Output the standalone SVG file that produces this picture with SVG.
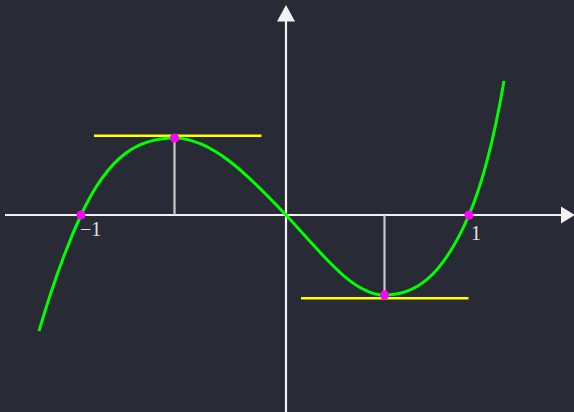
<svg xmlns="http://www.w3.org/2000/svg" width="574" height="412" viewBox="0 0 574 412">
<defs>
<style>
.axis{stroke:#f2f2f2;stroke-width:2.2;fill:none}
.arrow{fill:#f2f2f2}
.curve{stroke:#00ff00;stroke-width:3;fill:none;stroke-linecap:butt}
.tangent{stroke:#ffff00;stroke-width:2.6}
.drop{stroke:#c8c8c8;stroke-width:2.2}
.dot{fill:#ff00ff}
.lbl{font-family:"Liberation Serif","DejaVu Serif",serif;font-size:20px;fill:#e0e0e0}
</style>
</defs>
<rect width="574" height="412" fill="#282a36"/>
<g id="axes">
<line class="axis" x1="5" y1="215" x2="563" y2="215"/>
<polygon class="arrow" points="575,215 561,206.5 561,223.5"/>
<line class="axis" x1="286" y1="412" x2="286" y2="20"/>
<polygon class="arrow" points="286,5 277,21.5 295,21.5"/>
</g>
<g id="connectors">
<line class="drop" x1="174.5" y1="138" x2="174.5" y2="215"/>
<line class="drop" x1="384.5" y1="215" x2="384.5" y2="295"/>
<line class="tangent" x1="94" y1="135.7" x2="261.5" y2="135.7"/>
<line class="tangent" x1="301" y1="298.3" x2="468.5" y2="298.3"/>
</g>
<g id="curve">
<path class="curve" d="M39,331 C53,283.4 67,245.4 81,215 C110,153 140,138 174.5,138 C211.7,138 248.8,175.6 286,215 C318.8,249.8 351.7,295 384.5,295 C412.7,295 440.8,280.7 469,215 C480.7,187.8 494,139 504,81"/>
</g>
<g id="points">
<circle class="dot" cx="81" cy="215" r="4.5"/>
<circle class="dot" cx="469" cy="215" r="4.5"/>
<circle class="dot" cx="174.5" cy="138" r="4.5"/>
<circle class="dot" cx="384.5" cy="295" r="4.5"/>
</g>
<g id="labels">
<text class="lbl" x="80" y="236">−1</text>
<text class="lbl" x="471" y="240">1</text>
</g>
</svg>
